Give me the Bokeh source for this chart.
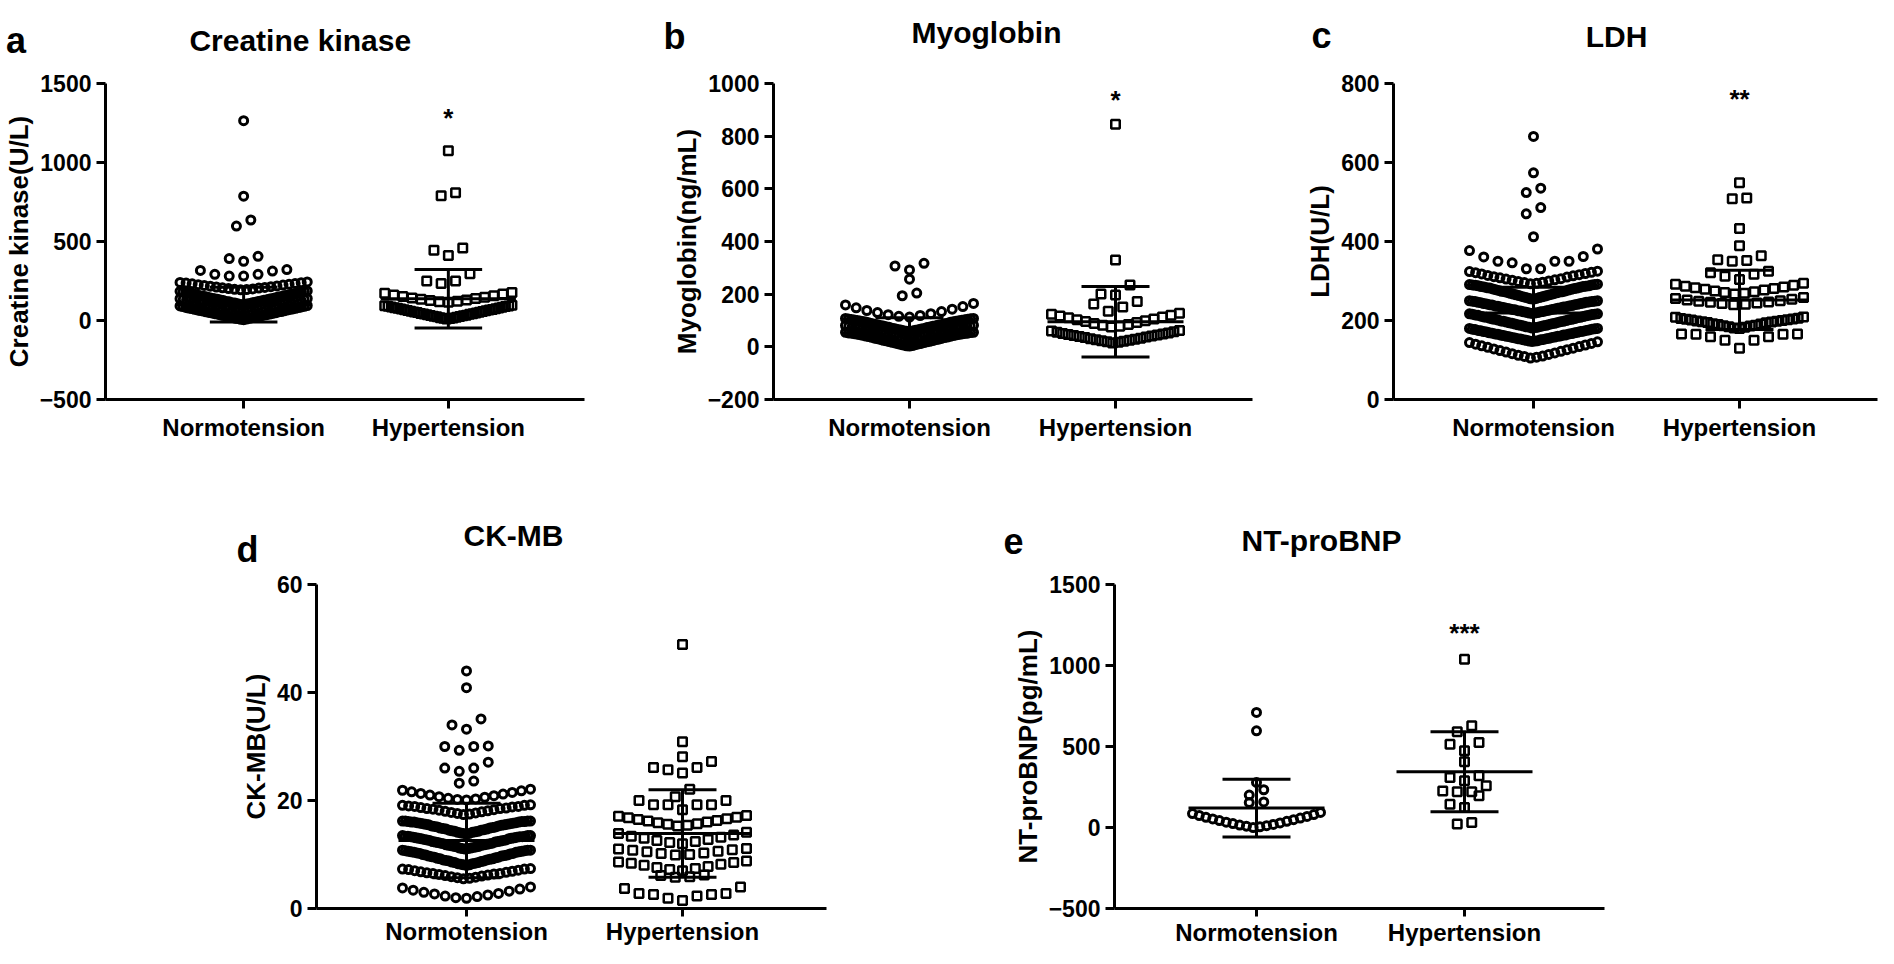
from bokeh.plotting import figure
from bokeh.layouts import column, row
from bokeh.models import Range1d, FixedTicker, Label
from bokeh.embed import file_html
from bokeh.resources import INLINE

FONT = "Liberation Sans"
groups = ["Normotension", "Hypertension"]

# ---------------- data (grouped by swarm row) ----------------
ck_normo_rows = [
    [5, 8, 9, 12, 14, 15, 18, 20, 21, 24, 26, 27, 30, 31, 34, 35, 37, 40, 41, 43, 45, 48, 49, 51, 54,
     55, 57, 60, 61, 63, 66, 67, 70, 71, 73, 76, 77, 79, 82, 83, 86, 88, 90, 92, 95],
    [50, 52, 55, 57, 59, 62, 64, 66, 69, 71, 73, 76, 78, 80, 83, 85, 87, 90, 92, 94, 97, 99, 101, 104,
     106, 108, 111, 113, 115, 118, 120, 122, 125, 127, 129, 132, 134, 136, 138, 140],
    [100, 101, 104, 106, 107, 110, 112, 113, 116, 118, 120, 121, 124, 126, 128, 130, 131, 134, 136, 138,
     140, 141, 144, 146, 148, 150, 152, 154, 156, 157, 160, 162, 164, 166, 168, 170, 171, 174, 176, 178,
     180, 181, 183, 185, 187],
    [194, 196, 197, 200, 202, 205, 207, 209, 212, 214, 217, 219, 222, 224, 227, 229, 232, 234, 237, 239, 241, 244],
    [281, 281, 292, 292, 313, 317, 322],
    [375, 392, 406],
    [598, 636],
    [787],
    [1265],
]
ck_hyper_rows = [
    [10, 12, 14, 16, 18, 21, 23, 25, 27, 30, 32, 34, 36, 39, 41, 43, 45, 48, 50, 52, 54, 57, 59, 61, 63,
     66, 68, 70, 72, 75, 77, 79, 81, 84, 86, 88, 90, 92, 94, 96],
    [115, 118, 122, 126, 130, 134, 139, 143, 147, 152, 157, 162, 167, 172, 178],
    [234, 250, 250, 296],
    [412, 444, 459],
    [790, 809],
    [1075],
]
ck_mean = [100, 138]
ck_sd = [110, 185]

myo_normo_rows = [
    [3, 4, 5, 7, 8, 9, 11, 12, 13, 15, 16, 17, 19, 20, 21, 23, 24, 25, 27, 28, 29, 31, 32, 33, 35, 36, 37,
     39, 40, 41, 43, 44, 45, 46, 47, 48, 49, 50, 51, 52, 52, 53, 54, 55, 55],
    [30, 31, 33, 34, 35, 37, 38, 39, 41, 42, 43, 45, 46, 47, 49, 50, 51, 53, 54, 55, 57, 58, 59, 61, 62,
     63, 65, 66, 67, 69, 70, 71, 73, 74, 75, 77, 78, 79, 81, 82],
    [58, 59, 60, 61, 63, 64, 65, 66, 68, 69, 70, 71, 73, 74, 75, 76, 78, 79, 80, 81, 83, 84, 85, 86, 88,
     89, 90, 91, 93, 94, 95, 96, 97, 98, 99, 100, 101, 102, 103, 104, 105, 106, 107, 108, 108],
    [113, 116, 119, 122, 126, 130, 134, 138, 143, 148, 153, 159, 165],
    [194, 204],
    [257],
    [292, 307, 317],
]
myo_hyper_rows = [
    [15, 17, 19, 21, 23, 25, 27, 29, 31, 33, 35, 37, 39, 41, 43, 45, 47, 49, 51, 53, 55, 57, 60, 62],
    [75, 78, 82, 85, 89, 92, 96, 99, 103, 106, 110, 113, 117, 120, 124, 128],
    [135, 151, 163, 172],
    [197, 201, 235],
    [330],
    [845],
]
myo_mean = [65, 95]
myo_sd = [45, 134]

ldh_normo_rows = [
    [105, 107, 109, 110, 112, 114, 116, 118, 120, 122, 124, 126, 128, 130, 132, 134, 136, 138, 140, 142, 144, 146],
    [147, 148, 148, 149, 150, 151, 151, 152, 153, 154, 154, 155, 156, 157, 157, 158, 159, 160, 160, 161,
     162, 163, 163, 164, 165, 166, 166, 167, 168, 169, 169, 170, 171, 172, 172, 173, 174, 175, 175, 176,
     177, 178, 178, 179, 180, 180],
    [181, 182, 183, 183, 184, 185, 186, 187, 188, 188, 189, 190, 191, 192, 193, 193, 194, 195, 196, 197,
     198, 198, 199, 200, 201, 202, 203, 203, 204, 205, 206, 207, 208, 208, 209, 210, 211, 212, 213, 213,
     214, 215, 216, 216, 217, 217],
    [218, 219, 219, 220, 221, 222, 222, 223, 224, 225, 225, 226, 227, 228, 228, 229, 230, 231, 231, 232,
     233, 234, 234, 235, 236, 237, 237, 238, 239, 240, 240, 241, 242, 243, 243, 244, 245, 246, 246, 247,
     248, 248, 249, 249, 250, 250],
    [254, 255, 256, 257, 258, 259, 260, 261, 262, 263, 264, 265, 266, 267, 268, 269, 270, 271, 272, 273,
     273, 274, 275, 276, 277, 278, 279, 280, 281, 282, 282, 283, 284, 285, 286, 286, 287, 288, 288, 289,
     290, 290, 291, 291, 292],
    [293, 294, 296, 297, 299, 300, 302, 303, 305, 306, 308, 310, 311, 313, 314, 316, 318, 319, 321, 322, 324, 325],
    [331, 331, 346, 350, 350, 350, 361, 362, 377, 381],
    [412],
    [470, 486],
    [524, 535],
    [574],
    [666],
]
ldh_hyper_rows = [
    [130, 150, 150, 159, 159, 165, 165, 166, 166],
    [180, 181, 183, 184, 186, 187, 188, 190, 191, 192, 194, 195, 196, 197, 198, 199, 200, 201, 202, 203,
     204, 205, 206, 208, 209],
    [240, 241, 243, 244, 246, 247, 249, 250, 252, 254, 256, 258],
    [267, 269, 271, 273, 275, 277, 279, 281, 283, 285, 287, 289, 292, 294],
    [304, 312, 317, 321, 325],
    [350, 352, 354, 364],
    [389],
    [433],
    [508, 510],
    [549],
]
ldh_mean = [219, 252]
ldh_sd = [65, 75]

ckmb_normo_rows = [
    [1.9, 2.0, 2.2, 2.3, 2.5, 2.7, 2.8, 3.0, 3.2, 3.4, 3.6, 3.8, 4.0],
    [5.5, 5.6, 5.7, 5.8, 5.9, 6.0, 6.1, 6.2, 6.3, 6.4, 6.5, 6.5, 6.6, 6.7, 6.8, 6.9, 7.0, 7.1, 7.2, 7.3,
     7.3, 7.4],
    [8.0, 8.1, 8.1, 8.2, 8.3, 8.3, 8.4, 8.5, 8.5, 8.6, 8.7, 8.8, 8.8, 8.9, 9.0, 9.0, 9.1, 9.2, 9.2, 9.3,
     9.4, 9.5, 9.5, 9.6, 9.7, 9.7, 9.8, 9.9, 9.9, 10.0, 10.1, 10.2, 10.2, 10.3, 10.4, 10.4, 10.5, 10.5,
     10.6, 10.6, 10.7, 10.7, 10.8, 10.8, 10.8],
    [11.0, 11.1, 11.1, 11.2, 11.2, 11.3, 11.4, 11.4, 11.5, 11.5, 11.6, 11.7, 11.7, 11.8, 11.8, 11.9, 12.0,
     12.0, 12.1, 12.1, 12.2, 12.3, 12.3, 12.4, 12.4, 12.5, 12.6, 12.6, 12.7, 12.7, 12.8, 12.9, 12.9, 13.0,
     13.0, 13.1, 13.1, 13.2, 13.2, 13.3, 13.3, 13.3, 13.4, 13.4, 13.4, 13.5, 13.5, 13.5],
    [13.8, 13.9, 13.9, 14.0, 14.1, 14.1, 14.2, 14.3, 14.3, 14.4, 14.5, 14.5, 14.6, 14.7, 14.7, 14.8, 14.9,
     14.9, 15.0, 15.1, 15.1, 15.2, 15.3, 15.3, 15.4, 15.5, 15.5, 15.6, 15.6, 15.7, 15.7, 15.8, 15.8, 15.9,
     15.9, 16.0, 16.0, 16.0, 16.1, 16.1, 16.1, 16.2, 16.2, 16.2, 16.2],
    [17.4, 17.5, 17.6, 17.7, 17.8, 17.9, 18.0, 18.1, 18.2, 18.3, 18.4, 18.5, 18.5, 18.6, 18.7, 18.8, 18.9,
     18.9, 19.0, 19.1, 19.1, 19.2],
    [20.1, 20.2, 20.3, 20.4, 20.6, 20.7, 20.9, 21.0, 21.2, 21.3, 21.5, 21.6, 21.8, 21.9, 22.1],
    [23.2, 23.6],
    [25.4, 26.0, 26.0, 27.1],
    [29.3, 30.0, 30.0, 30.1],
    [33.2, 34.0, 35.1],
    [40.9],
    [44.0],
]
ckmb_hyper_rows = [
    [1.5, 1.9, 2.3, 2.6, 2.6, 2.8, 2.8, 3.7, 4.0],
    [5.8, 5.9, 6.1, 6.2],
    [7.0, 7.2, 7.4, 7.6, 7.8, 8.0, 8.2, 8.4, 8.5, 8.6, 8.8],
    [9.9, 10.0, 10.2, 10.3, 10.5, 10.6, 10.8, 10.9, 11.0, 11.1],
    [12.0, 12.2, 12.4, 12.6, 12.8, 13.0, 13.2, 13.4, 13.6, 13.9, 14.1],
    [15.3, 15.4, 15.6, 15.7, 15.9, 16.0, 16.2, 16.3, 16.5, 16.6, 16.8, 16.9, 17.1, 17.2],
    [18.3, 19.2, 19.2, 19.2, 19.2, 20.0, 20.0],
    [20.7, 22.1],
    [25.1, 25.7, 26.1, 26.1, 27.2],
    [28.1],
    [30.9],
    [48.9],
]
ckmb_mean = [12.6, 13.9]
ckmb_sd = [6.9, 8.1]

nt_normo_rows = [
    [0, 4, 8, 11, 15, 19, 24, 28, 33, 38, 43, 48, 53, 58, 63, 68, 74, 80, 86, 93],
    [154, 158],
    [200, 233],
    [278],
    [597],
    [710],
]
nt_hyper_rows = [
    [21, 31],
    [123, 144, 196],
    [220, 220, 226, 257],
    [288, 309, 319],
    [406],
    [473, 514, 525],
    [591, 628],
    [1039],
]
nt_mean = [120, 344]
nt_sd = [178, 247]

ck_ticks = [-500, 0, 500, 1000, 1500]
myo_ticks = [-200, 0, 200, 400, 600, 800, 1000]
ldh_ticks = [0, 200, 400, 600, 800]
ckmb_ticks = [0, 20, 40, 60]
nt_ticks = [-500, 0, 500, 1000, 1500]

letters = ["a", "b", "c", "d", "e"]
titles = ["Creatine kinase", "Myoglobin", "LDH", "CK-MB", "NT-proBNP"]
ylabels = ["Creatine kinase(U/L)", "Myoglobin(ng/mL)", "LDH(U/L)", "CK-MB(U/L)", "NT-proBNP(pg/mL)"]
sig_marks = ["*", "*", "**", "", "***"]

# ---------------- layout (page pixels, 1878 x 948 content area) ----------------
SPECS = {
    "a": dict(fig=(0, 0, 640, 468), frame=(102, 78, 482, 321), tick1=241, unit=206,
              letter=(2, 34), title=(298, 34), star=103, xstand=5, tout=9),
    "b": dict(fig=(640, 0, 660, 468), frame=(773, 81, 479, 318), tick1=909, unit=206,
              letter=(663, 34), title=(986, 30), star=88, xstand=5, tout=9),
    "c": dict(fig=(1300, 0, 578, 468), frame=(1393, 83, 484, 321), tick1=1533, unit=206,
              letter=(1311, 34), title=(1616, 35), star=89, xstand=5, tout=9),
    "d": dict(fig=(0, 468, 990, 480), frame=(316, 575, 510, 336), tick1=466, unit=216,
              letter=(236, 539), title=(513, 524), star=None, xstand=1, tout=8),
    "e": dict(fig=(990, 468, 888, 480), frame=(1114, 584, 490, 324), tick1=1256, unit=208,
              letter=(1003, 540), title=(1321, 540), star=622, xstand=2, tout=8),
}

NAT = 14.5   # natural spacing between neighbours in a row (px)
HALF = 64.0  # max half width of a row (px)


def swarm(rows, center, unit):
    xs, ys = [], []
    for r in rows:
        vals = sorted(r)
        n = len(vals)
        s = NAT if n < 2 else min(NAT, 2 * HALF / (n - 1))
        offs = []
        if n % 2 == 1:
            offs.append(0.0)
            k = 1
            while len(offs) < n:
                offs.append(-k * s)
                if len(offs) < n:
                    offs.append(k * s)
                k += 1
        else:
            k = 0.5
            while len(offs) < n:
                offs.append(-k * s)
                offs.append(k * s)
                k += 1
        for v, o in zip(vals, offs):
            xs.append(center + o / unit)
            ys.append(v)
    return xs, ys


def make_panel(idx, rows_pair, mean, sd, yr, yticks):
    key = letters[idx]
    sp = SPECS[key]
    fx, fy, fwid, fhei = sp["fig"]
    lx, ty, w, h = sp["frame"]
    left, top = lx - fx, ty - fy
    right, bottom = fwid - left - w, fhei - top - h
    unit = sp["unit"]
    x0 = 1 - (sp["tick1"] - lx) / unit
    x1 = x0 + w / unit
    y0, y1 = yr
    ppy = h / (y1 - y0)

    p = figure(width=fwid, height=fhei, x_range=Range1d(x0, x1), y_range=Range1d(y0, y1),
               output_backend="svg", toolbar_location=None, title=None,
               min_border_left=left, min_border_right=right,
               min_border_top=top, min_border_bottom=bottom)
    p.outline_line_color = None
    p.xgrid.visible = False
    p.ygrid.visible = False
    p.background_fill_color = "white"
    p.border_fill_color = "white"

    markers = ["circle", "square"]
    sizes = [8.0, 8.5]
    lws = [3.0, 2.5]
    for gi, rows in enumerate(rows_pair):
        xs, ys = swarm(rows, gi + 1, unit)
        p.scatter(xs, ys, marker=markers[gi], size=sizes[gi], line_width=lws[gi],
                  line_color="black", fill_color=None)

    cats = [1, 2]
    mh, ch = 68 / unit, 34 / unit
    lo = [m - s for m, s in zip(mean, sd)]
    hi = [m + s for m, s in zip(mean, sd)]
    p.segment(x0=[c - mh for c in cats], x1=[c + mh for c in cats], y0=mean, y1=mean,
              line_width=3, line_color="black")
    p.segment(x0=[c - ch for c in cats], x1=[c + ch for c in cats], y0=hi, y1=hi,
              line_width=3, line_color="black")
    p.segment(x0=[c - ch for c in cats], x1=[c + ch for c in cats], y0=lo, y1=lo,
              line_width=3, line_color="black")
    p.segment(x0=cats, x1=cats, y0=lo, y1=hi, line_width=3, line_color="black")

    p.xaxis.ticker = FixedTicker(ticks=cats)
    p.xaxis.major_label_overrides = {1: groups[0], 2: groups[1]}
    p.yaxis.ticker = FixedTicker(ticks=yticks)
    for ax in (p.xaxis[0], p.yaxis[0]):
        ax.axis_line_width = 3
        ax.axis_line_color = "black"
        ax.major_tick_line_width = 3
        ax.major_tick_line_color = "black"
        ax.major_tick_in = 0
        ax.minor_tick_out = 0
        ax.minor_tick_in = 0
        ax.major_label_text_font = FONT
        ax.major_label_text_font_style = "bold"
        ax.major_label_text_color = "black"
    p.xaxis.major_tick_out = sp["tout"]
    p.yaxis.major_tick_out = 9
    p.xaxis.major_label_text_font_size = "24px"
    p.xaxis.major_label_standoff = sp["xstand"]
    p.yaxis.major_label_text_font_size = "23px"
    p.yaxis.major_label_standoff = 5
    p.yaxis.axis_label = ylabels[idx]
    p.yaxis.axis_label_text_font = FONT
    p.yaxis.axis_label_text_font_size = "26px"
    p.yaxis.axis_label_text_font_style = "bold"
    p.yaxis.axis_label_text_color = "black"
    p.yaxis.axis_label_standoff = 3

    def label(text, px, py, size, align):
        # page pixel position -> data coordinates of this panel
        return Label(x=x0 + (px - lx) / unit, y=y1 - (py - ty) / ppy, text=text,
                     text_font=FONT, text_font_size=size, text_font_style="bold",
                     text_align=align, text_baseline="alphabetic", text_color="black")

    # panel letter and title live in the border above the frame
    p.add_layout(label(letters[idx], sp["letter"][0], sp["letter"][1], "36px", "left"), "above")
    p.add_layout(label(titles[idx], sp["title"][0], sp["title"][1], "30px", "center"), "above")
    if sig_marks[idx] and sp["star"] is not None:
        p.add_layout(label(sig_marks[idx], lx + (2 - x0) * unit, sp["star"] + 10, "26px", "center"))
    return p


rows_data = [
    ((ck_normo_rows, ck_hyper_rows), ck_mean, ck_sd, (-500, 1500), ck_ticks),
    ((myo_normo_rows, myo_hyper_rows), myo_mean, myo_sd, (-200, 1000), myo_ticks),
    ((ldh_normo_rows, ldh_hyper_rows), ldh_mean, ldh_sd, (0, 800), ldh_ticks),
    ((ckmb_normo_rows, ckmb_hyper_rows), ckmb_mean, ckmb_sd, (0, 60), ckmb_ticks),
    ((nt_normo_rows, nt_hyper_rows), nt_mean, nt_sd, (-500, 1500), nt_ticks),
]
plots = [make_panel(i, *rows_data[i]) for i in range(5)]

layout = column(row(plots[0], plots[1], plots[2]), row(plots[3], plots[4]))
open("out.html", "w").write(file_html(layout, INLINE))
